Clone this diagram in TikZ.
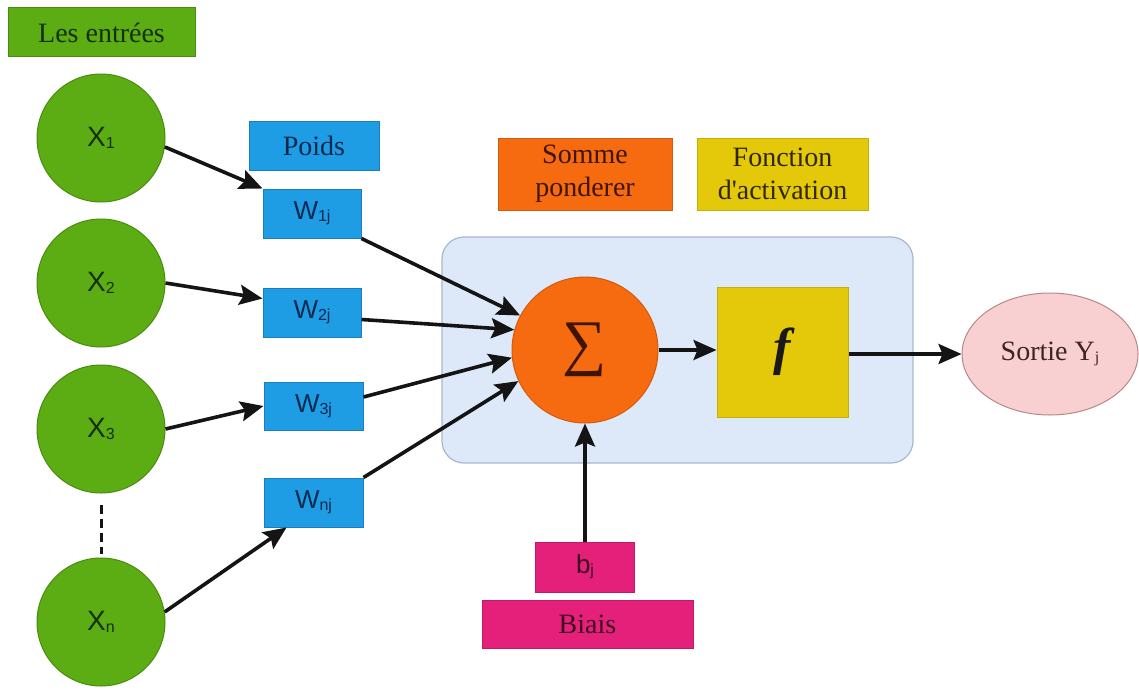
\documentclass[tikz,border=0pt]{standalone}
\usepackage{fontspec}
\setmainfont{Liberation Serif}
\newfontfamily\arialfont{Liberation Sans}
\usetikzlibrary{arrows.meta,shapes.geometric}

\definecolor{ingreen}{HTML}{5CAC14}
\definecolor{ingreenD}{HTML}{4A8C10}
\definecolor{ingreenT}{HTML}{16300A}
\definecolor{wblue}{HTML}{1E9CE4}
\definecolor{wblueD}{HTML}{1A7EBE}
\definecolor{wblueT}{HTML}{0A2850}
\definecolor{sorange}{HTML}{F76B10}
\definecolor{sorangeD}{HTML}{D45A0C}
\definecolor{sorangeT}{HTML}{401500}
\definecolor{fyellow}{HTML}{E4C80A}
\definecolor{fyellowD}{HTML}{C8AE08}
\definecolor{fyellowT}{HTML}{302800}
\definecolor{bpink}{HTML}{E4207A}
\definecolor{bpinkD}{HTML}{C01A66}
\definecolor{bpinkT}{HTML}{400820}
\definecolor{cfill}{HTML}{DDE9F8}
\definecolor{cdraw}{HTML}{A8B8CC}
\definecolor{ofill}{HTML}{F8D0D2}
\definecolor{odraw}{HTML}{B88888}
\definecolor{oText}{HTML}{402424}

% small lowered index used in the labels
\newcommand\lowsub[1]{{\fontsize{16}{16}\selectfont\raisebox{-2pt}{#1}}}

\tikzset{
  lbl/.style={font=\fontsize{28}{33}\selectfont, align=center, inner sep=0pt},
  greenbox/.style={lbl, rectangle, fill=ingreen, draw=ingreenD, line width=1pt, text=ingreenT},
  incircle/.style={circle, fill=ingreen, draw=ingreenD, line width=1pt, minimum size=128pt,
                   inner sep=0pt, text=ingreenT, font=\arialfont\fontsize{28}{28}\selectfont},
  bluebox/.style={rectangle, fill=wblue, draw=wblueD, line width=1pt, text=wblueT, inner sep=0pt},
  weight/.style={bluebox, minimum width=98pt, minimum height=49pt, font=\arialfont\fontsize{26}{26}\selectfont},
  orangebox/.style={lbl, rectangle, fill=sorange, draw=sorangeD, line width=1pt, text=sorangeT},
  yellowbox/.style={lbl, rectangle, fill=fyellow, draw=fyellowD, line width=1pt, text=fyellowT},
  pinkbox/.style={rectangle, fill=bpink, draw=bpinkD, line width=1pt, text=bpinkT, inner sep=0pt},
  conn/.style={line width=3.6pt, black!92, -{Stealth[length=23pt,width=20pt,inset=4pt]}},
  plain/.style={line width=3pt, black!92},
}

\begin{document}
\begin{tikzpicture}[x=1pt,y=-1pt]
  \useasboundingbox (0,0) rectangle (1139,693);
  \fill[white] (0,0) rectangle (1139,693);

  % processing unit background
  \draw[fill=cfill, draw=cdraw, line width=1.2pt, rounded corners=22pt]
    (442,237) rectangle (913,463);

  % headings
  \node[greenbox, minimum width=187pt, minimum height=49pt] (entrees) at (101.5,32.5) {Les entrées};
  \node[bluebox, lbl, text=wblueT, minimum width=130pt, minimum height=49pt] (poids) at (314,145.5) {Poids};
  \node[orangebox, minimum width=174pt, minimum height=72pt] (somme) at (585,174) {Somme\\ponderer};
  \node[yellowbox, minimum width=171pt, minimum height=72pt] (fonction) at (782.5,174) {Fonction\\d\textquotesingle activation};

  % inputs
  \node[incircle] (x1) at (101,138) {X\lowsub{1}};
  \node[incircle] (x2) at (101,283) {X\lowsub{2}};
  \node[incircle] (x3) at (101,429) {X\lowsub{3}};
  \node[incircle] (xn) at (101,622) {X\lowsub{n}};

  % weights
  \node[weight] (w1) at (312,213.5) {W\lowsub{1j}};
  \node[weight] (w2) at (312,312.5) {W\lowsub{2j}};
  \node[weight, minimum width=99pt, minimum height=48pt] (w3) at (313.5,406) {W\lowsub{3j}};
  \node[weight, minimum width=99pt] (wn) at (313.5,502.5) {W\lowsub{nj}};

  % summation and activation
  \node[circle, fill=sorange, draw=sorangeD, line width=1pt, minimum size=146pt, inner sep=0pt,
        text=sorangeT, font=\fontsize{62}{62}\selectfont] (sig) at (585,350) {\raisebox{4pt}{∑}};
  \node[rectangle, fill=fyellow, draw=fyellowD, line width=1pt, minimum width=131pt,
        minimum height=130pt, inner sep=0pt, text=black!90,
        font=\bfseries\itshape\fontsize{52}{52}\selectfont] (f) at (782.5,352) {f};

  % output
  \node[ellipse, fill=ofill, draw=odraw, line width=1pt, minimum width=176pt, minimum height=122pt,
        inner sep=0pt, text=oText, font=\fontsize{28}{28}\selectfont] (out) at (1050,354)
        {Sortie Y\lowsub{j}};

  % bias
  \node[pinkbox, minimum width=99pt, minimum height=50pt, font=\arialfont\fontsize{26}{26}\selectfont]
        (bj) at (585,567) {b\lowsub{j}};
  \node[pinkbox, lbl, text=bpinkT, minimum width=211pt, minimum height=48pt] (biais) at (587.5,624) {Biais};

  % inputs to weights
  \draw[conn] (x1.-8) -- (w1.north west);
  \draw[conn] (x2.east) -- ([yshift=14pt]w2.west);
  \draw[conn] (x3.east) -- (w3.west);
  \draw[conn] (xn.9) -- ([xshift=23pt]wn.south west);
  \draw[plain, dash pattern=on 9pt off 5pt]
    ([yshift=-11pt]x3.south) -- ([yshift=4pt]xn.north);

  % weights to summation
  \draw[conn] (w1.south east) -- (sig.152);
  \draw[conn] ([yshift=-7pt]w2.east) -- (sig.164);
  \draw[conn] ([yshift=9pt]w3.east) -- (sig.186);
  \draw[conn] (wn.north east) -- (sig.205);

  % summation to activation to output
  \draw[conn] (sig.east) -- (sig.east -| f.west);
  \draw[conn] (f.east |- out.west) -- (out.west);

  % bias to summation
  \draw[conn] (bj.north) -- (sig.south);
\end{tikzpicture}
\end{document}
